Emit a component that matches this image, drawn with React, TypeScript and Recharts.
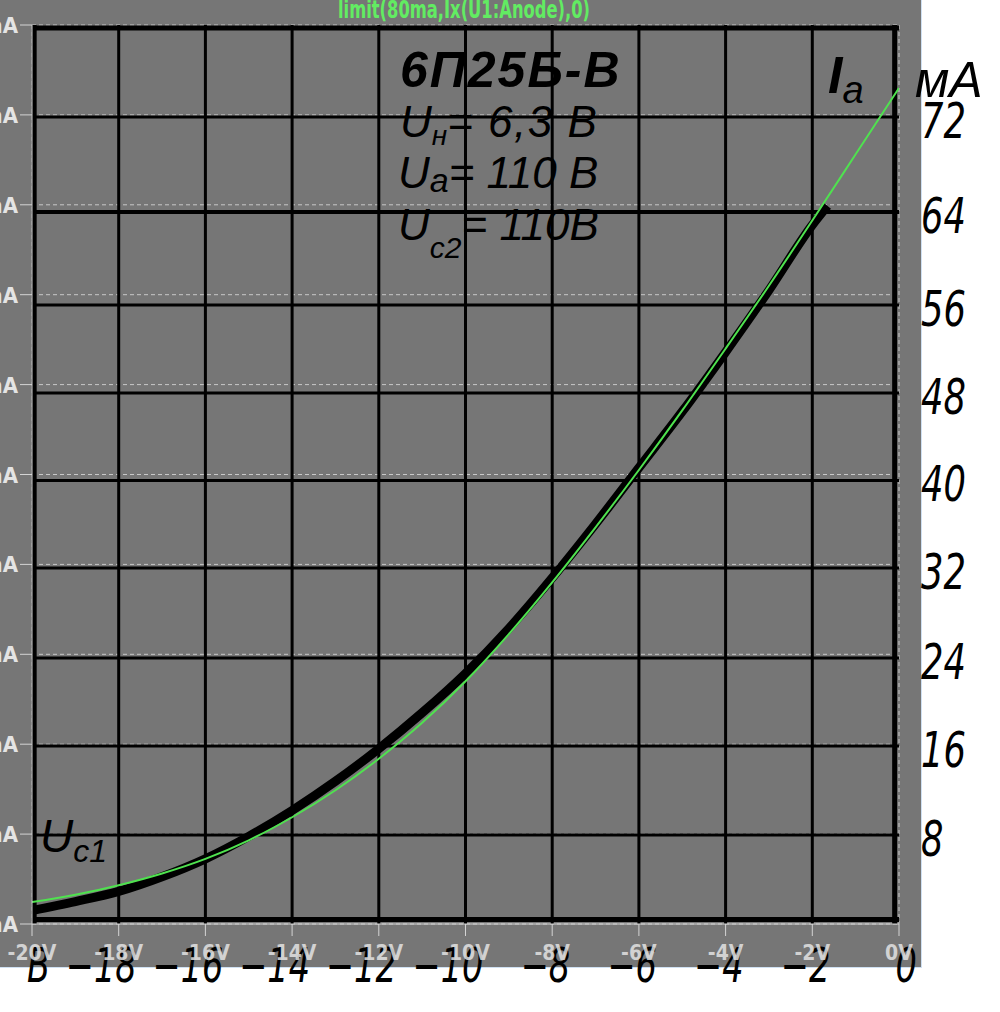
import { LineChart, Line, XAxis, YAxis, CartesianGrid, ReferenceLine } from 'recharts';

// grid voltage ticks (LTspice axis) and their labels
const gridVoltTicks = [-20, -18, -16, -14, -12, -10, -8, -6, -4, -2, 0];
const gridVoltLabels = ['-20V', '-18V', '-16V', '-14V', '-12V', '-10V', '-8V', '-6V', '-4V', '-2V', '0V'];
// the scanned datasheet's own x labels
const sheetVoltLabels = ['В', '−18', '−16', '−14', '−12', '−10', '−8', '−6', '−4', '−2', '0'];

const currentTicks = [0, 8, 16, 24, 32, 40, 48, 56, 64, 72, 80];
const currentLabels = ['0mA', '8mA', '16mA', '24mA', '32mA', '40mA', '48mA', '56mA', '64mA', '72mA', '80mA'];

// simulated anode current (green trace)
const simVolts = [-20, -19, -18, -17, -16, -15, -14, -13, -12, -11, -10, -9, -8, -7, -6, -5, -4, -3, -2, -1, 0];
const simCurrent = [1.95, 2.6, 3.45, 4.5, 5.8, 7.45, 9.5, 11.9, 14.7, 17.9, 21.6, 25.8, 30.4, 35.3, 40.4, 45.7, 51.2, 56.8, 62.6, 68.5, 74.4];

// datasheet curve (thick black)
const sheetVolts = [-20, -19, -18, -17, -16, -15, -14, -13, -12, -11, -10, -9, -8, -7, -6, -5, -4, -3, -2, -1.65];
const sheetCurrent = [1.2, 2.0, 2.9, 4.2, 5.8, 7.8, 10.1, 12.7, 15.6, 18.8, 22.3, 26.3, 30.8, 35.6, 40.6, 45.6, 50.9, 56.4, 62.2, 63.9];

// datasheet grid lines, expressed in the LTspice axis units (scan is slightly uneven)
const sheetGridV = [-19.95, -18, -16, -14, -12, -10, -8, -6, -4, -2, -0.1];
const sheetGridH = [0.4, 7.92, 15.84, 23.67, 31.68, 39.47, 47.25, 55.08, 63.36, 71.81, 79.73];
const sheetCurrentLabels = ['', '8', '16', '24', '32', '40', '48', '56', '64', '72', ''];

const simData = simVolts.map((v, i) => ({ v, ia: simCurrent[i] }));
const sheetData = sheetVolts.map((v, i) => ({ v, ia: sheetCurrent[i] }));

const NARROW = "'Liberation Sans Narrow', 'DejaVu Sans Condensed', sans-serif";
const HAND = "'DejaVu Sans', sans-serif";
const AXIS = '#d4d4d4';

function VoltTick(props: any) {
  const { x, y, payload } = props;
  const i = gridVoltTicks.indexOf(payload.value);
  return (
    <g>
      <text
        transform={`translate(${x + 18} ${y + 44}) scale(0.7 1)`}
        textAnchor="end"
        fontFamily={HAND}
        fontStyle="italic"
        fontSize={48}
        fill="#000"
      >
        {sheetVoltLabels[i]}
      </text>
      <text x={x} y={y + 22} textAnchor="middle" fontFamily={NARROW} fontWeight="bold" fontSize={21} fill="#e4e4e4" fillOpacity={0.85}>
        {gridVoltLabels[i]}
      </text>
    </g>
  );
}

function CurrentTick(props: any) {
  const { y, payload } = props;
  const i = currentTicks.indexOf(payload.value);
  return (
    <text x={18} y={y} dy={8} textAnchor="end" fontFamily={NARROW} fontWeight="bold" fontSize={22} fill="#e4e4e4">
      {currentLabels[i]}
    </text>
  );
}

function SheetLabel(props: any) {
  const { viewBox, text } = props;
  if (!viewBox || !text) return null;
  const x = viewBox.x + viewBox.width + 22;
  return (
    <text
      transform={`translate(${x} ${viewBox.y + 21}) scale(0.72 1)`}
      fontFamily={HAND}
      fontStyle="italic"
      fontSize={49}
      fill="#000"
    >
      {text}
    </text>
  );
}

export default function App() {
  return (
    <div style={{ position: 'absolute', left: 0, top: 0, width: 1000, height: 1012, background: '#fff', overflow: 'hidden' }}>
      <div
        style={{
          position: 'absolute', left: 0, top: 0, width: 921, height: 967, background: '#767676',
          borderRight: '1px solid #cfe0f2', borderBottom: '1px solid #cfe0f2',
        }}
      />
      <div style={{ position: 'absolute', left: 0, top: 0 }}>
        <LineChart width={1000} height={1012} margin={{ top: 25, right: 101, bottom: 0, left: 0 }}>
          <CartesianGrid yAxisId="lt" stroke="#c8c8c8" strokeDasharray="4 3" />
          <XAxis
            dataKey="v"
            type="number"
            domain={[-20, 0]}
            ticks={gridVoltTicks}
            allowDataOverflow
            height={88}
            stroke={AXIS}
            tickSize={12}
            tick={<VoltTick />}
          />
          <YAxis
            yAxisId="lt"
            type="number"
            domain={[0, 80]}
            ticks={currentTicks}
            width={32}
            stroke={AXIS}
            tickSize={12}
            tick={<CurrentTick />}
          />
          {sheetGridH.map((h, i) => (
            <ReferenceLine
              key={'h' + i}
              yAxisId="lt"
              y={h}
              stroke="#000"
              strokeWidth={i === 0 || i === sheetGridH.length - 1 ? 5 : i === 8 ? 4 : 3}
              label={<SheetLabel text={sheetCurrentLabels[i]} />}
            />
          ))}
          {sheetGridV.map((v, i) => (
            <ReferenceLine
              key={'v' + i}
              yAxisId="lt"
              x={v}
              stroke="#000"
              strokeWidth={i === 0 || i === sheetGridV.length - 1 ? 5 : 3}
            />
          ))}
          <Line
            yAxisId="lt"
            data={sheetData}
            dataKey="ia"
            type="monotone"
            stroke="#000"
            strokeWidth={9}
            dot={false}
            isAnimationActive={false}
          />
          <Line
            yAxisId="lt"
            data={simData}
            dataKey="ia"
            type="monotone"
            stroke="#4fe24f"
            strokeWidth={2}
            dot={false}
            isAnimationActive={false}
          />
        </LineChart>
      </div>
      <svg width={1000} height={1012} style={{ position: 'absolute', left: 0, top: 0, pointerEvents: 'none' }}>
        <text x={338} y={18} textLength={252} lengthAdjust="spacingAndGlyphs" fontFamily={NARROW} fontWeight="bold" fontSize={25} fill="#62ec62">
          limit(80ma,Ix(U1:Anode),0)
        </text>
        <g fontFamily="'Liberation Sans', 'DejaVu Sans', sans-serif" fontStyle="italic" fill="#000">
          <text x={400} y={87} fontSize={50} fontWeight="bold" letterSpacing={2}>6П25Б-В</text>
          <text x={400} y={137} fontSize={44}>
            U<tspan fontSize={28} dy={8}>н</tspan><tspan dy={-8} fontSize={44} letterSpacing={1.5}>= 6,3 В</tspan>
          </text>
          <text x={398} y={188} fontSize={44}>
            U<tspan fontSize={34} dy={4}>а</tspan><tspan dy={-4} fontSize={44}>= 110 В</tspan>
          </text>
          <text x={398} y={240} fontSize={44}>
            U<tspan fontSize={30} dy={18}>с2</tspan><tspan dy={-18} fontSize={44}>= 110В</tspan>
          </text>
          <text x={828} y={93} fontSize={52} fontWeight="bold">
            I<tspan fontSize={38} dy={10} fontWeight="normal">a</tspan>
          </text>
          <text x={915} y={97} fontSize={50}>мА</text>
          <text x={40} y={852} fontSize={46}>
            U<tspan fontSize={32} dy={10}>с1</tspan>
          </text>
        </g>
      </svg>
    </div>
  );
}
